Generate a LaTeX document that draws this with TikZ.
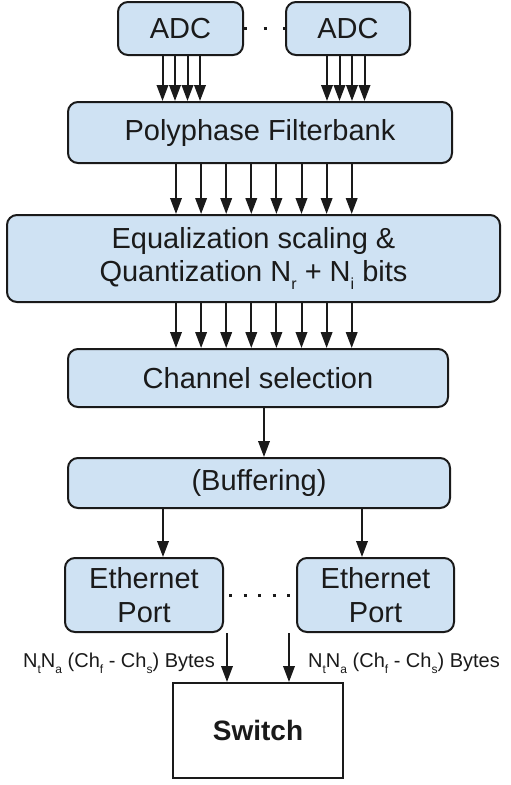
\documentclass[tikz,border=0pt]{standalone}
\usepackage{fontspec}
\setmainfont{Liberation Sans}
\usetikzlibrary{arrows.meta}
\definecolor{lblue}{HTML}{CFE2F3}
\definecolor{ink}{HTML}{1A1A1A}
\newcommand\mysub[1]{\raisebox{-0.3em}{\fontsize{16}{16}\selectfont #1}}
\newcommand\lblsub[1]{\raisebox{-0.3em}{\fontsize{12}{12}\selectfont #1}}
\begin{document}
\begin{tikzpicture}[x=1pt,y=-1pt,
  blk/.style={draw=ink, fill=lblue, rounded corners=10pt, line width=2pt, inner sep=0pt,
    font=\fontsize{29}{33}\selectfont, text=ink, align=center},
  arr/.style={draw=ink, line width=2pt, -{Triangle[width=11.5pt,length=16pt]}},
  dotline/.style={draw=ink, line width=3pt},
  lbl/.style={font=\fontsize{20}{22}\selectfont, text=ink, inner sep=0pt}]
\fill[white] (0,0) rectangle (511,785);
\useasboundingbox (0,0) rectangle (511,785);
\node[blk, minimum width=125pt, minimum height=53pt] (adc1) at (180.5,28.5) {ADC};
\node[blk, minimum width=124pt, minimum height=53pt] (adc2) at (348,28.5) {ADC};
\node[blk, minimum width=384pt, minimum height=61pt] (pf) at (260,132.5) {Polyphase Filterbank};
\node[blk, minimum width=493pt, minimum height=87pt] (eq) at (253.5,258.5)
  {Equalization scaling \&\\Quantization N\mysub{r} + N\mysub{i} bits};
\node[blk, minimum width=380pt, minimum height=58pt] (cs) at (258,378) {Channel selection};
\node[blk, minimum width=382pt, minimum height=50pt] (buf) at (259,483) {(Buffering)};
\node[blk, minimum width=158pt, minimum height=74pt, font=\fontsize{29}{34}\selectfont] (p1) at (144,595) {Ethernet\\Port};
\node[blk, minimum width=157pt, minimum height=74pt, font=\fontsize{29}{34}\selectfont] (p2) at (375.5,595) {Ethernet\\Port};
\node[draw=ink, fill=white, line width=2pt, minimum width=170pt, minimum height=95pt,
  font=\fontsize{28}{33}\selectfont\bfseries, text=ink] (sw) at (258,730.5) {Switch};
% dotted links
\draw[dotline, dash pattern=on 3pt off 16.5pt] (adc1.east) -- (adc2.west);
\draw[dotline, dash pattern=on 3pt off 11.5pt, dash phase=9.5pt] (p1.east) -- (p2.west);
% arrows
\foreach \x in {162.5,175,187.5,200,327,339.5,352,364.5}
  \draw[arr] (adc1.south -| \x,0) -- (pf.north -| \x,0);
\foreach \i in {0,...,7}{
  \pgfmathsetmacro\xx{176+25.1*\i}
  \draw[arr] (pf.south -| \xx,0) -- (eq.north -| \xx,0);
  \draw[arr] (eq.south -| \xx,0) -- (cs.north -| \xx,0);
}
\draw[arr] (cs.south -| 264,0) -- (buf.north -| 264,0);
\draw[arr] (buf.south -| 163,0) -- (p1.north -| 163,0);
\draw[arr] (buf.south -| 362,0) -- (p2.north -| 362,0);
\draw[arr] (p1.south -| 227,0) -- (sw.north -| 227,0);
\draw[arr] (p2.south -| 289,0) -- (sw.north -| 289,0);
% labels
\node[lbl, anchor=base east] (l1) at (215,667) {N\lblsub{t}N\lblsub{a} (Ch\lblsub{f} - Ch\lblsub{s}) Bytes};
\node[lbl, anchor=base west] (l2) at (308,667) {N\lblsub{t}N\lblsub{a} (Ch\lblsub{f} - Ch\lblsub{s}) Bytes};
\end{tikzpicture}
\end{document}
